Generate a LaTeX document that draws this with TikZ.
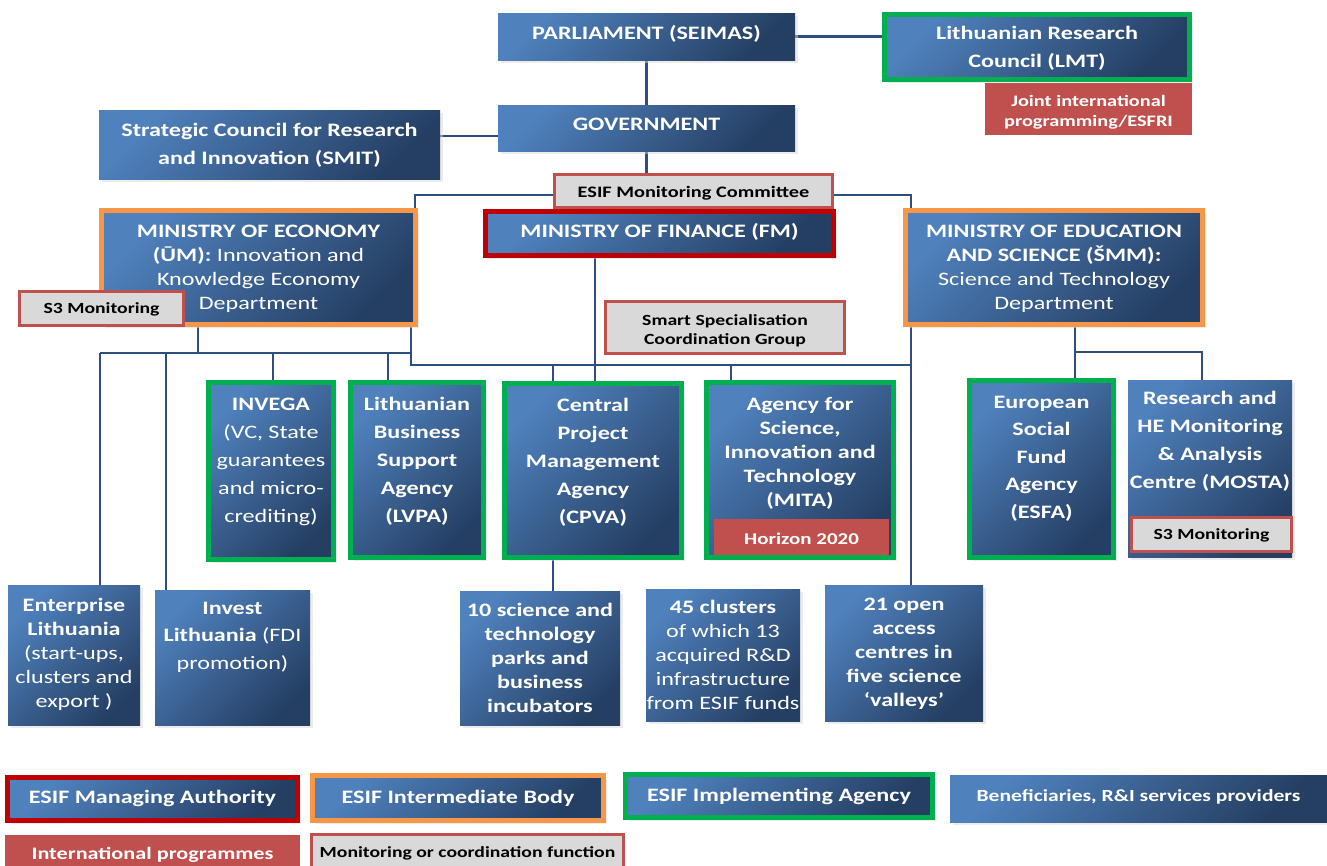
\documentclass[tikz,border=0pt]{standalone}
\usepackage{fontspec}
\setmainfont{Carlito}[FakeStretch=1.27]
\usetikzlibrary{shadows,backgrounds}
\definecolor{blA}{HTML}{4F81BD}
\definecolor{blB}{HTML}{253F63}
\definecolor{grnB}{HTML}{00B050}
\definecolor{orgB}{HTML}{F79646}
\definecolor{redB}{HTML}{C00000}
\definecolor{redF}{HTML}{C0504D}
\definecolor{grayF}{HTML}{D9D9D9}
\definecolor{connC}{HTML}{2C4F80}
% #1 height, #2 width, #3 first baseline, #4 font size, #5 baselineskip, #6 text
\newcommand\bxt[6]{\parbox[c][#1pt][t]{#2pt}{\fontsize{#4}{#5}\selectfont\bfseries\centering\vspace*{\dimexpr#3pt-0.7\baselineskip\relax}\strut#6\par}}
\newcommand\rg[1]{{\mdseries #1}}
\begin{document}
\begin{tikzpicture}[x=1pt,y=-1pt,
  base/.style={anchor=north west, inner sep=0pt, outer sep=0pt, text=white},
  bbox/.style={base, top color=blA, bottom color=blB, shading angle=45,
    drop shadow={shadow xshift=3pt, shadow yshift=-3pt, fill=black!15}},
  gbox/.style={bbox, draw=grnB, line width=5pt},
  obox/.style={bbox, draw=orgB, line width=5pt},
  rbox/.style={bbox, draw=redB, line width=5pt},
  intl/.style={base, fill=redF},
  mon/.style={base, fill=grayF, draw=redF, line width=3pt, text=black},
  conn/.style={draw=connC, line width=2.8pt}]
\useasboundingbox (0,0) rectangle (1327,865);
% top
\node[bbox] (parl) at (498,13) {\bxt{47}{297}{26}{19}{28}{PARLIAMENT (SEIMAS)}};
\node[gbox] (lmt) at (884.5,14.5) {\bxt{65}{305}{24.5}{19}{28}{Lithuanian Research\\Council (LMT)}};
\node[intl] (jip) at (985,83) {\bxt{52}{207}{23}{16}{20}{Joint international\\programming/ESFRI}};
\node[bbox] (gov) at (498,105) {\bxt{46}{297}{25}{19}{28}{GOVERNMENT}};
\node[bbox] (smit) at (99,110) {\bxt{69}{341}{26}{19}{28}{Strategic Council for Research\\and Innovation (SMIT)}};
\node[rbox] (fm) at (485.5,211.5) {\bxt{44}{348}{25.5}{19}{28}{MINISTRY OF FINANCE (FM)}};
\node[mon] (esifmc) at (554.5,174.5) {\bxt{33}{278}{22.5}{16}{20}{ESIF Monitoring Committee}};
\node[obox] (econ) at (101.5,210.5) {\bxt{114}{314}{26.5}{19}{24}{MINISTRY OF ECONOMY\\(ŪM): \rg{Innovation and}\\\rg{Knowledge Economy}\\\rg{Department}}};
\node[mon] (s3a) at (19.5,291.5) {\bxt{34}{164}{21.5}{15.5}{19}{S3 Monitoring}};
\node[obox] (edu) at (905.5,210.5) {\bxt{114}{297}{26.5}{19}{24}{MINISTRY OF EDUCATION\\AND SCIENCE (ŠMM):\\\rg{Science and Technology}\\\rg{Department}}};
\node[mon] (ssg) at (605.5,301.5) {\bxt{52}{239}{23.5}{15.5}{19}{Smart Specialisation\\Coordination Group}};
% agencies
\node[gbox] (invega) at (208.5,382.5) {\bxt{177}{125}{27.5}{19}{28}{INVEGA\\\rg{(VC, State}\\\rg{guarantees}\\\rg{and micro-}\\\rg{crediting)}}};
\node[gbox] (lvpa) at (350.5,382.5) {\bxt{175}{133}{27.5}{19}{28}{Lithuanian\\Business\\Support\\Agency\\(LVPA)}};
\node[gbox] (cpva) at (504.5,383.5) {\bxt{174}{177}{27.5}{19}{28}{Central\\Project\\Management\\Agency\\(CPVA)}};
\node[gbox] (mita) at (706.5,382.5) {\bxt{175}{187}{27.5}{19}{24}{Agency for\\Science,\\Innovation and\\Technology\\(MITA)}};
\node[intl] (h2020) at (714,519) {\bxt{36}{175}{25}{16.5}{20}{Horizon 2020}};
\node[gbox] (esfa) at (969.5,380.5) {\bxt{177}{144}{27.5}{19}{27.5}{European\\Social\\Fund\\Agency\\(ESFA)}};
\node[bbox] (mosta) at (1128,380) {\bxt{177}{164}{24}{19}{28}{Research and\\HE Monitoring\\\& Analysis\\Centre (MOSTA)}};
\node[mon] (s3b) at (1131.5,517.5) {\bxt{34}{160}{21.5}{15.5}{19}{S3 Monitoring}};
% bottom row
\node[bbox] (ent) at (8,585) {\bxt{140}{132}{26}{19}{24}{Enterprise\\Lithuania\\\rg{(start-ups,}\\\rg{clusters and}\\\rg{export )}}};
\node[bbox] (inv) at (155,590) {\bxt{135}{155}{24}{19}{27.5}{Invest\\Lithuania \rg{(FDI}\\\rg{promotion)}}};
\node[bbox] (parks) at (460,591) {\bxt{134}{160}{25}{19}{24}{10 science and\\technology\\parks and\\business\\incubators}};
\node[bbox] (clus) at (646,589) {\bxt{132}{154}{24}{19}{24}{45 clusters\\\rg{of which 13}\\\rg{acquired R\&D}\\\rg{infrastructure}\\\rg{from ESIF funds}}};
\node[bbox] (open) at (825,585) {\bxt{136}{158}{25}{19}{24}{21 open\\access\\centres in\\five science\\‘valleys’}};
% legend
\node[rbox] (lma) at (7.5,777.5) {\bxt{43}{290}{25.5}{19}{24}{ESIF Managing Authority}};
\node[obox] (lib) at (312.5,775.5) {\bxt{45}{291}{27.5}{19}{24}{ESIF Intermediate Body}};
\node[gbox] (lia) at (625.5,774.5) {\bxt{43}{307}{26.5}{19}{24}{ESIF Implementing Agency}};
\node[bbox] (lben) at (950,775) {\bxt{47}{377}{26}{17}{22}{Beneficiaries, R\&I services providers}};
\node[intl] (lint) at (5,835) {\bxt{36}{295}{24}{17.5}{22}{International programmes}};
\node[mon] (lmon) at (311.5,834.5) {\bxt{36}{312}{22.5}{15.5}{20}{Monitoring or coordination function}};
% connectors
\coordinate (mcL) at (415,195);
\coordinate (mcR) at (911,195);
\coordinate (fmx) at (595,300);
\coordinate (eL) at (100,353);
\coordinate (eM) at (198,353);
\coordinate (eR) at (411,353);
\coordinate (eI) at (166,353);
\coordinate (eV) at (273,353);
\coordinate (eB) at (388,353);
\coordinate (rb) at (411,365);
\coordinate (rbR) at (911,365);
\coordinate (cx) at (553,365);
\coordinate (mx) at (731,365);
\coordinate (sx) at (1075,352);
\coordinate (sx2) at (1202,352);
\coordinate (px) at (553,575);
\begin{scope}[on background layer]
\draw[conn] (parl.east) -- (parl.east -| lmt.west);
\draw[conn] (parl) -- (gov);
\draw[conn] ([yshift=8.5pt]smit.east) -- ([yshift=8.5pt]smit.east -| gov.west);
\draw[conn] (gov) -- (gov |- esifmc.north);
\draw[conn] (mcL |- econ.north) |- (esifmc.west |- mcL);
\draw[conn] (mcR |- edu.north) |- (esifmc.east |- mcR);
\draw[conn] (fm.south -| fmx) -- (cpva.north -| fmx);
\draw[conn] (econ.south -| eM) -- (eM);
\draw[conn] (eL) -- (eR);
\draw[conn] (eL) -- (eL |- ent.north);
\draw[conn] (eI) -- (eI |- inv.north);
\draw[conn] (eV) -- (eV |- invega.north);
\draw[conn] (eB) -- (eB |- lvpa.north);
\draw[conn] (econ.south -| rb) -- (rb) -- (rbR);
\draw[conn] (cx) -- (cx |- cpva.north);
\draw[conn] (mx) -- (mx |- mita.north);
\draw[conn] (edu.south -| rbR) -- (rbR |- open.north);
\draw[conn] (edu.south -| sx) -- (sx |- esfa.north);
\draw[conn] (sx) -- (sx2) -- (sx2 |- mosta.north);
\draw[conn] (cpva.south -| px) -- (px |- parks.north);
\end{scope}
\end{tikzpicture}
\end{document}
